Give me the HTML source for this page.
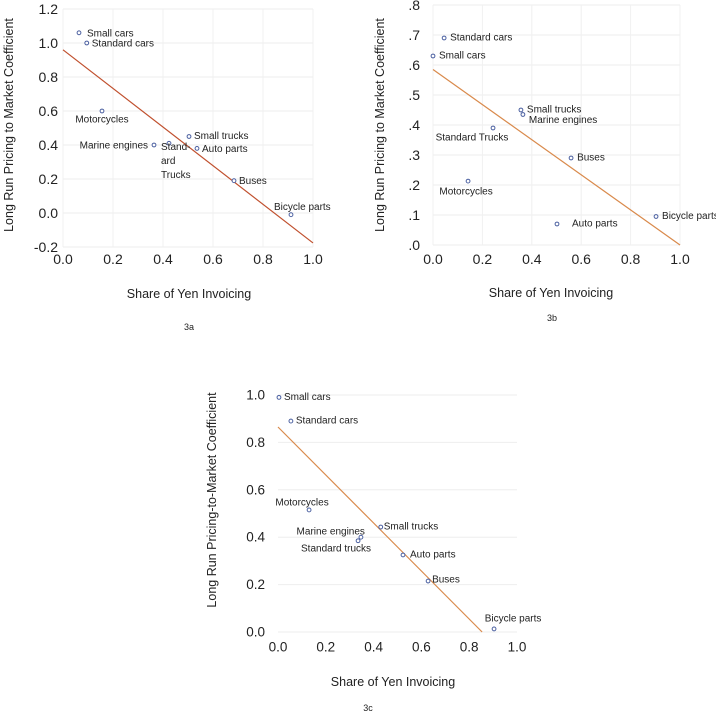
<!DOCTYPE html>
<html><head><meta charset="utf-8">
<style>
html,body{margin:0;padding:0;background:#fff;}
svg{display:block;font-family:"Liberation Sans",sans-serif;}
</style></head>
<body>
<svg id="root" width="716" height="720" viewBox="0 0 716 720" xmlns="http://www.w3.org/2000/svg"></svg>
<script>
const namesA = ["Small cars","Standard cars","Motorcycles","Marine engines","Standard trucks","Small trucks","Auto parts","Buses","Bicycle parts"];
const xA = [0.064,0.095,0.156,0.364,0.424,0.504,0.536,0.684,0.912];
const yA = [1.06,1.0,0.60,0.40,0.41,0.45,0.38,0.19,-0.01];
const lineA = [0.96,-0.176];
const yTicksA = ["1.2","1.0","0.8","0.6","0.4","0.2","0.0","-0.2"];
const yTickValsA = [1.2,1.0,0.8,0.6,0.4,0.2,0.0,-0.2];

const namesB = ["Standard cars","Small cars","Small trucks","Marine engines","Standard Trucks","Buses","Motorcycles","Auto parts","Bicycle parts"];
const xB = [0.045,0.0,0.356,0.364,0.243,0.559,0.142,0.502,0.903];
const yB = [0.69,0.63,0.45,0.435,0.39,0.29,0.213,0.07,0.095];
const lineB = [0.585,0.0];
const yTicksB = [".8",".7",".6",".5",".4",".3",".2",".1",".0"];
const yTickValsB = [0.8,0.7,0.6,0.5,0.4,0.3,0.2,0.1,0.0];

const namesC = ["Small cars","Standard cars","Motorcycles","Marine engines","Standard trucks","Small trucks","Auto parts","Buses","Bicycle parts"];
const xC = [0.004,0.054,0.13,0.347,0.335,0.43,0.523,0.628,0.904];
const yC = [0.99,0.89,0.515,0.40,0.385,0.443,0.325,0.215,0.013];
const lineC = [0.865,0.0,0.854];
const yTicksC = ["1.0","0.8","0.6","0.4","0.2","0.0"];
const yTickValsC = [1.0,0.8,0.6,0.4,0.2,0.0];

const xTicks = ["0.0","0.2","0.4","0.6","0.8","1.0"];
const xTickVals = [0,0.2,0.4,0.6,0.8,1.0];

const NS="http://www.w3.org/2000/svg";
const root=document.getElementById('root');
function mk(tag,attrs,parent){const e=document.createElementNS(NS,tag);for(const k in attrs)e.setAttribute(k,attrs[k]);(parent||root).appendChild(e);return e;}

function chart(cfg){
  const g=mk('g',{});
  
  
  const X=v=>cfg.x0+(cfg.x1-cfg.x0)*v;
  const Y=v=>cfg.yZero-cfg.yScale*v;
  const top=Y(cfg.yVals[0]), bot=Y(cfg.yVals[cfg.yVals.length-1]);
  // gridlines
  cfg.yVals.forEach(v=>{const l=mk('line',{x1:X(0),x2:X(1),y1:Y(v),y2:Y(v),stroke:'#eeeeee','stroke-width':1},g);
    });
  if(cfg.vgrid) cfg.xVals.forEach(v=>{const l=mk('line',{x1:X(v),x2:X(v),y1:top,y2:bot,stroke:'#f0f0f0','stroke-width':1},g);
    });
  // y ticks
  cfg.yTicks.forEach((t,i)=>{const e=mk('text',{x:cfg.yLabX,y:Y(cfg.yVals[i]),'text-anchor':'end','dominant-baseline':'central','font-size':cfg.tickFs,fill:'#222'},g);
    e.textContent=t;});
  xTicks.forEach((t,i)=>{const e=mk('text',{x:X(xTickVals[i]),y:cfg.xLabY,'text-anchor':'middle','dominant-baseline':'central','font-size':cfg.tickFs,fill:'#222'},g);
    e.textContent=t;});
  // trend line
  const xe=cfg.line.length>2?cfg.line[2]:1;
  const ln=mk('line',{x1:X(0),y1:Y(cfg.line[0]),x2:X(xe),y2:Y(cfg.line[1]),stroke:cfg.lineColor,'stroke-width':1.2},g);
  
  // points
  cfg.names.forEach((n,i)=>{
    const px=X(cfg.xs[i]),py=Y(cfg.ys[i]);
    const c=mk('circle',{cx:px,cy:py,r:1.9,fill:'#fff',stroke:'#4a5fa0','stroke-width':1},g);
    
    
    const o=cfg.off[i];
    const lines=o[3]||[n];
    lines.forEach((s,j)=>{
      const t=mk('text',{x:px+o[0],y:py+o[1]+j*14,'text-anchor':o[2],'dominant-baseline':'central','font-size':10,fill:'#222'},g);
      t.textContent=s;
      
      
    });
  });
  const xt=mk('text',{x:cfg.xtX,y:cfg.xtY,'text-anchor':'middle','dominant-baseline':'central','font-size':12.5,fill:'#222'},g);
  xt.textContent='Share of Yen Invoicing';
  const yt=mk('text',{x:0,y:0,'text-anchor':'middle','dominant-baseline':'central','font-size':12.5,fill:'#222',transform:`translate(${cfg.ytX},${cfg.ytY}) rotate(-90)`},g);
  yt.textContent=cfg.yTitle;
  const cp=mk('text',{x:cfg.capX,y:cfg.capY,'text-anchor':'middle','dominant-baseline':'central','font-size':9,fill:'#222'},g);
  cp.textContent=cfg.id;
}

chart({id:'3a',x0:63,x1:313,yZero:213,yScale:170,yVals:yTickValsA,yTicks:yTicksA,xVals:xTickVals,vgrid:true,
  yLabX:58,xLabY:259,tickFs:14,line:lineA,lineColor:'#c0502e',names:namesA,xs:xA,ys:yA,
  off:[[8,1,'start'],[5,1,'start'],[0,9,'middle'],[-6,1,'end'],[-8,4,'start',['Stand-','ard','Trucks']],[5,0,'start'],[5,1,'start'],[5,1,'start'],[-17,-7,'start']],
  xtX:189,xtY:294,ytX:9,ytY:125,yTitle:'Long Run Pricing to Market Coefficient',capX:189,capY:327});

chart({id:'3b',x0:433,x1:680,yZero:245,yScale:300,yVals:yTickValsB,yTicks:yTicksB,xVals:xTickVals,vgrid:true,
  yLabX:420,xLabY:259,tickFs:14,line:lineB,lineColor:'#d98a4c',names:namesB,xs:xB,ys:yB,
  off:[[6,0,'start'],[6,0,'start'],[6,0,'start'],[6,6,'start'],[-21,10,'middle'],[6,0,'start'],[-2,11,'middle'],[15,0,'start'],[6,0,'start']],
  xtX:551,xtY:293,ytX:380,ytY:125,yTitle:'Long Run Pricing to Market Coefficient',capX:552,capY:318});

chart({id:'3c',x0:278,x1:517,yZero:632,yScale:237,yVals:yTickValsC,yTicks:yTicksC,xVals:xTickVals,vgrid:false,
  yLabX:265,xLabY:647,tickFs:13.5,line:lineC,lineColor:'#d98a4c',names:namesC,xs:xC,ys:yC,
  off:[[5,0,'start'],[5,0,'start'],[-7,-7,'middle'],[4,-5,'end'],[13,8,'end'],[3,0,'start'],[7,0,'start'],[4,-1,'start'],[19,-10,'middle']],
  xtX:393,xtY:682,ytX:212,ytY:500,yTitle:'Long Run Pricing-to-Market Coefficient',capX:368,capY:708});
</script>
</body></html>
